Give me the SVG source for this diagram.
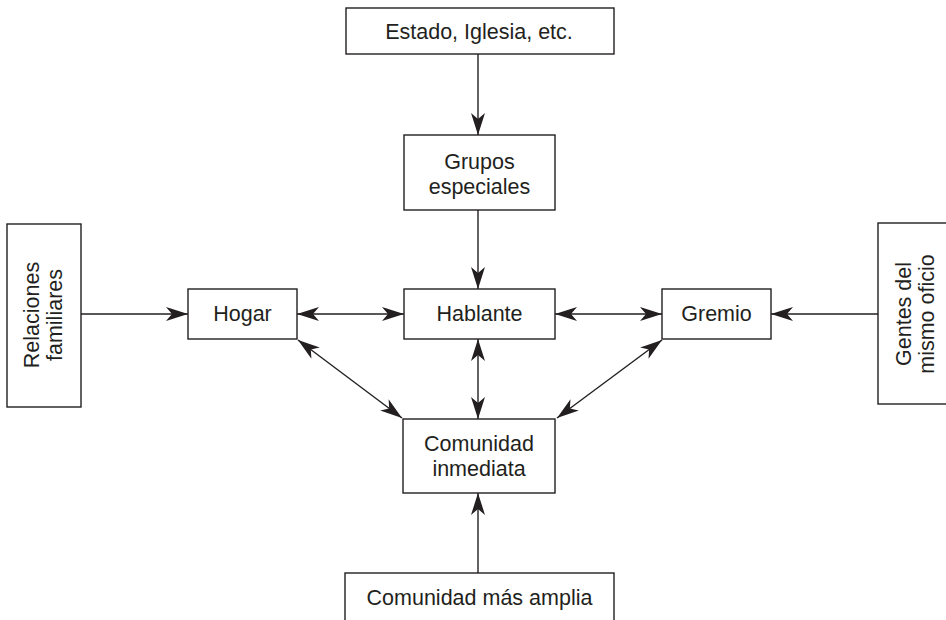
<svg xmlns="http://www.w3.org/2000/svg" width="946" height="620" viewBox="0 0 946 620">
<style>
.box{fill:#fff;stroke:#231f20;stroke-width:1.4}
.t{font-family:"Liberation Sans",Arial,sans-serif;font-size:21.5px;fill:#231f20;text-anchor:middle}
.c{stroke:#231f20;stroke-width:1.4;fill:none}
</style>
<defs>
<marker id="ah" viewBox="0 0 22 14" refX="22" refY="7" markerWidth="22" markerHeight="14" markerUnits="userSpaceOnUse" orient="auto-start-reverse">
<path d="M0,0 L22,7 L0,14 L6,7 Z" fill="#231f20"/>
</marker>
</defs>
<rect width="946" height="620" fill="#fff"/>
<g id="connectors">
<line class="c" x1="478" y1="54" x2="478" y2="135" marker-end="url(#ah)"/>
<line class="c" x1="478" y1="210" x2="478" y2="289" marker-end="url(#ah)"/>
<line class="c" x1="478" y1="339" x2="478" y2="419" marker-start="url(#ah)" marker-end="url(#ah)"/>
<line class="c" x1="478" y1="573" x2="478" y2="493" marker-end="url(#ah)"/>
<line class="c" x1="81" y1="314" x2="188" y2="314" marker-end="url(#ah)"/>
<line class="c" x1="297" y1="314" x2="404" y2="314" marker-start="url(#ah)" marker-end="url(#ah)"/>
<line class="c" x1="555" y1="314" x2="662" y2="314" marker-start="url(#ah)" marker-end="url(#ah)"/>
<line class="c" x1="878" y1="314" x2="771" y2="314" marker-end="url(#ah)"/>
<line class="c" x1="298" y1="340" x2="402" y2="418" marker-start="url(#ah)" marker-end="url(#ah)"/>
<line class="c" x1="662" y1="340" x2="557" y2="418" marker-start="url(#ah)" marker-end="url(#ah)"/>
</g>
<g id="estado">
<rect class="box" x="346" y="8" width="268" height="46"/>
<text class="t" x="479" y="39">Estado, Iglesia, etc.</text>
</g>
<g id="grupos">
<rect class="box" x="404" y="135" width="151" height="75"/>
<text class="t" x="479.5" y="169">Grupos</text>
<text class="t" x="479.5" y="194">especiales</text>
</g>
<g id="relaciones">
<rect class="box" x="7" y="224" width="74" height="183"/>
<text class="t" transform="translate(39,315) rotate(-90)">Relaciones</text>
<text class="t" transform="translate(62,315) rotate(-90)">familiares</text>
</g>
<g id="hogar">
<rect class="box" x="188" y="289" width="109" height="50"/>
<text class="t" x="242.5" y="321">Hogar</text>
</g>
<g id="hablante">
<rect class="box" x="404" y="289" width="151" height="50"/>
<text class="t" x="479.5" y="321">Hablante</text>
</g>
<g id="gremio">
<rect class="box" x="662" y="289" width="109" height="50"/>
<text class="t" x="716.5" y="321">Gremio</text>
</g>
<g id="gentes">
<rect class="box" x="878" y="223" width="80" height="181"/>
<text class="t" transform="translate(911,314) rotate(-90)">Gentes del</text>
<text class="t" transform="translate(934,314) rotate(-90)">mismo oficio</text>
</g>
<g id="comunidad-inmediata">
<rect class="box" x="403" y="419" width="152" height="74"/>
<text class="t" x="479" y="451">Comunidad</text>
<text class="t" x="479" y="476">inmediata</text>
</g>
<g id="comunidad-amplia">
<rect class="box" x="345" y="573" width="269" height="60"/>
<text class="t" x="479.5" y="605">Comunidad más amplia</text>
</g>
</svg>
